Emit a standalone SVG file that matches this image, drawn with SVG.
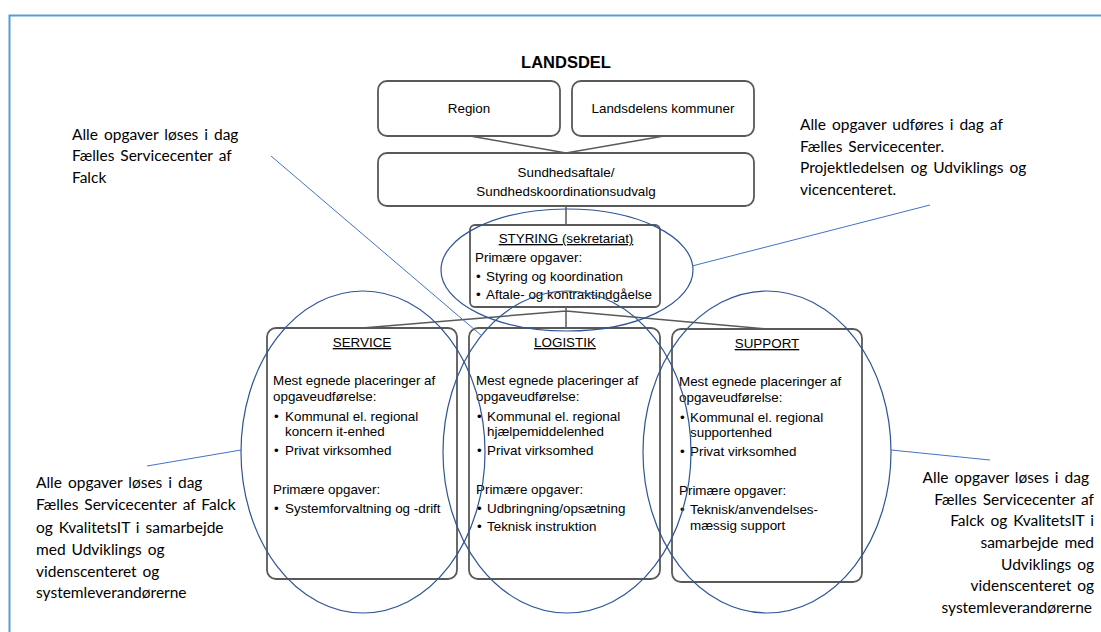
<svg xmlns="http://www.w3.org/2000/svg" width="1101" height="632" viewBox="0 0 1101 632">
<style>
.box{fill:#fff;stroke:#595959;stroke-width:1.8}
.t{font-family:"Liberation Sans",Arial,sans-serif;font-size:13.4px;fill:#000}
.c{text-anchor:middle}
.u{text-decoration:underline}
.h{font-size:16.5px;font-weight:bold}
.ell{fill:none;stroke:#2f5597;stroke-width:1.2}
.ann{stroke:#4472c4;stroke-width:1;fill:none}
.conn{stroke:#595959;stroke-width:1.5;fill:none}
.a{font-family:Lato,"Open Sans",sans-serif;font-size:15.5px;fill:#000;word-spacing:2px}
.e{text-anchor:end}
</style>
<rect width="1101" height="632" fill="#fff"/>
<path d="M9.5,632 V15.5 H1101" fill="none" stroke="#5b9bd5" stroke-width="2"/>

<text class="t c h" x="566" y="68">LANDSDEL</text>

<g id="connectors">
<path class="conn" d="M470,136 L566,153 L664,136"/>
<path class="conn" d="M566,206 V226"/>
<path class="conn" d="M566,307 V328 M566,311 L362,328 M566,311 L767,329"/>
</g>

<g id="region">
<rect class="box" x="378" y="81" width="182" height="55" rx="9"/>
<text class="t c" x="469" y="113">Region</text>
</g>
<g id="kommuner">
<rect class="box" x="572" y="81" width="182" height="55" rx="9"/>
<text class="t c" x="663" y="113">Landsdelens kommuner</text>
</g>
<g id="sundhedsaftale">
<rect class="box" x="378" y="153" width="376" height="53" rx="9"/>
<text class="t c" x="566" y="177">Sundhedsaftale/</text>
<text class="t c" x="566" y="196">Sundhedskoordinationsudvalg</text>
</g>
<g id="styring">
<rect class="box" x="470" y="225" width="190" height="82" rx="5"/>
<text class="t c u" x="566" y="243">STYRING (sekretariat)</text>
<text class="t" x="475" y="262">Primære opgaver:</text>
<text class="t" x="476" y="281">•</text><text class="t" x="486" y="281">Styring og koordination</text>
<text class="t" x="476" y="299">•</text><text class="t" x="486" y="299">Aftale- og kontraktindgåelse</text>
</g>

<g id="service">
<rect class="box" x="267" y="328" width="190" height="251" rx="9"/>
<text class="t c u" x="362" y="347">SERVICE</text>
<text class="t" x="273" y="385">Mest egnede placeringer af</text>
<text class="t" x="273" y="401">opgaveudførelse:</text>
<text class="t" x="274" y="421">•</text><text class="t" x="285" y="421">Kommunal el. regional</text>
<text class="t" x="285" y="436">koncern it-enhed</text>
<text class="t" x="274" y="455">•</text><text class="t" x="285" y="455">Privat virksomhed</text>
<text class="t" x="273" y="494">Primære opgaver:</text>
<text class="t" x="274" y="513">•</text><text class="t" x="285" y="513">Systemforvaltning og -drift</text>
</g>
<g id="logistik">
<rect class="box" x="469" y="328" width="191" height="251" rx="9"/>
<text class="t c u" x="565" y="347">LOGISTIK</text>
<text class="t" x="476" y="385">Mest egnede placeringer af</text>
<text class="t" x="476" y="401">opgaveudførelse:</text>
<text class="t" x="477" y="421">•</text><text class="t" x="487" y="421">Kommunal el. regional</text>
<text class="t" x="487" y="436">hjælpemiddelenhed</text>
<text class="t" x="477" y="455">•</text><text class="t" x="487" y="455">Privat virksomhed</text>
<text class="t" x="476" y="494">Primære opgaver:</text>
<text class="t" x="477" y="513">•</text><text class="t" x="487" y="513">Udbringning/opsætning</text>
<text class="t" x="477" y="531">•</text><text class="t" x="487" y="531">Teknisk instruktion</text>
</g>
<g id="support">
<rect class="box" x="672" y="329" width="190" height="253" rx="9"/>
<text class="t c u" x="767" y="348">SUPPORT</text>
<text class="t" x="679" y="386">Mest egnede placeringer af</text>
<text class="t" x="679" y="402">opgaveudførelse:</text>
<text class="t" x="680" y="422">•</text><text class="t" x="690" y="422">Kommunal el. regional</text>
<text class="t" x="690" y="437">supportenhed</text>
<text class="t" x="680" y="456">•</text><text class="t" x="690" y="456">Privat virksomhed</text>
<text class="t" x="679" y="495">Primære opgaver:</text>
<text class="t" x="680" y="514">•</text><text class="t" x="690" y="514">Teknisk/anvendelses-</text>
<text class="t" x="690" y="530">mæssig support</text>
</g>

<g id="ellipses">
<ellipse class="ell" cx="567" cy="270" rx="126" ry="61"/>
<ellipse class="ell" cx="363" cy="452" rx="122" ry="161"/>
<ellipse class="ell" cx="567" cy="452" rx="124" ry="161"/>
<ellipse class="ell" cx="767" cy="452" rx="124" ry="161"/>
</g>

<g id="annotation-lines">
<line class="ann" x1="271" y1="156" x2="482" y2="336"/>
<line class="ann" x1="930" y1="205" x2="692" y2="266"/>
<line class="ann" x1="147" y1="466" x2="241" y2="450"/>
<line class="ann" x1="891" y1="450" x2="990" y2="460"/>
</g>

<g id="note-top-left">
<text class="a" x="72" y="140">Alle opgaver løses i dag</text>
<text class="a" x="72" y="161">Fælles Servicecenter af</text>
<text class="a" x="72" y="183">Falck</text>
</g>
<g id="note-top-right">
<text class="a" x="800" y="130">Alle opgaver udføres i dag af</text>
<text class="a" x="800" y="152">Fælles Servicecenter.</text>
<text class="a" x="800" y="173">Projektledelsen og Udviklings og</text>
<text class="a" x="800" y="195">vicencenteret.</text>
</g>
<g id="note-bottom-left">
<text class="a" x="36" y="488">Alle opgaver løses i dag</text>
<text class="a" x="36" y="510">Fælles Servicecenter af Falck</text>
<text class="a" x="36" y="533">og KvalitetsIT i samarbejde</text>
<text class="a" x="36" y="555">med Udviklings og</text>
<text class="a" x="36" y="577">videnscenteret og</text>
<text class="a" x="36" y="598">systemleverandørerne</text>
</g>
<g id="note-bottom-right">
<text class="a e" x="1089" y="483">Alle opgaver løses i dag</text>
<text class="a e" x="1094" y="505">Fælles Servicecenter af</text>
<text class="a e" x="1094" y="526">Falck og KvalitetsIT i</text>
<text class="a e" x="1094" y="548">samarbejde med</text>
<text class="a e" x="1094" y="570">Udviklings og</text>
<text class="a e" x="1094" y="591">videnscenteret og</text>
<text class="a e" x="1092" y="613">systemleverandørerne</text>
</g>
</svg>
